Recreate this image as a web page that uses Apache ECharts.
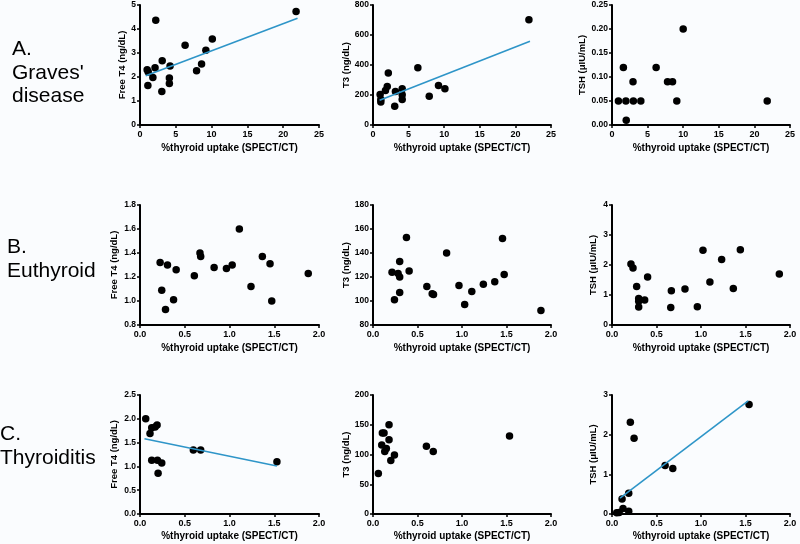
<!DOCTYPE html>
<html>
<head>
<meta charset="utf-8">
<script src="https://cdn.jsdelivr.net/npm/echarts@6/dist/echarts.min.js"></script>
<style>html,body{margin:0;padding:0;background:#fafcfe;}#c{width:800px;height:544px;}</style>
</head>
<body>
<div id="c"></div>
<script>
// ---- Data ----
// Row A: Graves' disease (x = %thyroid uptake)
const gravesFT4X = [21.8, 2.2, 6.3, 10.1, 9.2, 8.6, 7.9, 3.1, 2.1, 4.2, 1.0, 1.15, 1.8, 4.1, 4.1, 1.1, 3.05];
const gravesFT4Y = [4.73, 4.36, 3.32, 3.58, 3.11, 2.54, 2.26, 2.68, 2.39, 2.46, 2.30, 2.21, 1.98, 1.96, 1.73, 1.65, 1.40];
const gravesFT4Fit = [[0.8, 2.05], [22.0, 4.45]];
const gravesT3X = [21.9, 6.3, 2.15, 2.0, 1.75, 9.2, 10.1, 7.9, 3.15, 4.1, 4.1, 4.1, 1.0, 1.1, 1.1, 3.05];
const gravesT3Y = [702, 382, 346, 257, 230, 264, 241, 192, 223, 241, 201, 170, 203, 170, 154, 125];
const gravesT3Fit = [[0.93, 165], [22.05, 559]];
const gravesTSHX = [10.0, 1.6, 6.2, 2.95, 7.8, 8.5, 0.9, 1.95, 3.0, 4.05, 9.1, 21.8, 2.0];
const gravesTSHY = [0.20, 0.12, 0.12, 0.09, 0.09, 0.09, 0.05, 0.05, 0.05, 0.05, 0.05, 0.05, 0.01];
// Row B: Euthyroid
const euthFT4X = [0.225, 0.307, 0.404, 0.243, 0.375, 0.285, 0.670, 0.678, 0.607, 0.828, 0.966, 1.03, 1.367, 1.453, 1.24, 1.472, 1.88, 1.11];
const euthFT4Y = [1.32, 1.30, 1.26, 1.09, 1.01, 0.93, 1.40, 1.37, 1.21, 1.28, 1.27, 1.30, 1.37, 1.31, 1.12, 1.00, 1.23, 1.60];
const euthT3X = [0.376, 1.455, 0.827, 0.30, 0.214, 0.282, 0.30, 0.406, 0.605, 0.665, 0.68, 0.30, 0.241, 0.966, 1.03, 1.11, 1.24, 1.368, 1.474, 1.887];
const euthT3Y = [153, 152, 140, 133, 124, 123, 120, 125, 112, 106, 105.5, 107, 101, 113, 97, 108, 114, 116, 122, 92];
const euthTSHX = [0.213, 0.236, 0.277, 0.40, 0.30, 0.30, 0.30, 0.367, 0.667, 0.66, 0.82, 0.959, 1.022, 1.10, 1.232, 1.363, 1.442, 1.88];
const euthTSHY = [2.03, 1.90, 1.28, 1.60, 0.88, 0.79, 0.60, 0.83, 1.14, 0.58, 1.20, 0.61, 2.49, 1.43, 2.18, 1.22, 2.51, 1.70];
// Row C: Thyroiditis
const thyrFT4X = [0.064, 0.112, 0.131, 0.169, 0.191, 0.131, 0.195, 0.243, 0.202, 0.596, 0.678, 1.53];
const thyrFT4Y = [2.00, 1.69, 1.81, 1.83, 1.87, 1.13, 1.13, 1.07, 0.855, 1.345, 1.345, 1.10];
const thyrFT4Fit = [[0.05, 1.58], [1.53, 1.01]];
const thyrT3X = [0.18, 0.105, 0.124, 0.18, 0.098, 0.15, 0.132, 0.241, 0.2, 0.06, 0.60, 0.677, 1.534];
const thyrT3Y = [150, 136, 136, 125, 116, 110, 105, 99, 90, 68, 114, 105, 131];
const thyrTSHX = [0.206, 0.248, 0.597, 0.683, 0.188, 0.113, 0.124, 0.188, 0.053, 0.08, 1.54];
const thyrTSHY = [2.31, 1.91, 1.22, 1.15, 0.52, 0.38, 0.14, 0.07, 0.03, 0.04, 2.76];
const thyrTSHFit = [[0.09, 0.40], [1.53, 2.85]];

// Text
const xTitle = '%thyroid uptake (SPECT/CT)';
const yTitles = ['Free T4 (ng/dL)', 'T3 (ng/dL)', 'TSH (\u03bcIU/mL)'];
const rowLabels = [['A.', "Graves'", 'disease'], ['B.', 'Euthyroid'], ['C.', 'Thyroiditis']];

// ---- Layout ----
const colLeft = [140, 373, 612];
const colWidth = [179, 178, 178];
const rowTop = [5, 205, 395];
const rowHeight = [120, 120, 119];

const panels = [
  {r:0,c:0,x:gravesFT4X,y:gravesFT4Y,fit:gravesFT4Fit,xr:[0,25,5,0],yr:[0,5,1,0],gap:13},
  {r:0,c:1,x:gravesT3X,y:gravesT3Y,fit:gravesT3Fit,xr:[0,25,5,0],yr:[0,800,200,0],gap:21},
  {r:0,c:2,x:gravesTSHX,y:gravesTSHY,fit:null,xr:[0,25,5,0],yr:[0,0.25,0.05,2],gap:24},
  {r:1,c:0,x:euthFT4X,y:euthFT4Y,fit:null,xr:[0,2,0.5,1],yr:[0.8,1.8,0.2,1],gap:21},
  {r:1,c:1,x:euthT3X,y:euthT3Y,fit:null,xr:[0,2,0.5,1],yr:[80,180,20,0],gap:21},
  {r:1,c:2,x:euthTSHX,y:euthTSHY,fit:null,xr:[0,2,0.5,1],yr:[0,4,1,0],gap:14},
  {r:2,c:0,x:thyrFT4X,y:thyrFT4Y,fit:thyrFT4Fit,xr:[0,2,0.5,1],yr:[0,2.5,0.5,1],gap:21},
  {r:2,c:1,x:thyrT3X,y:thyrT3Y,fit:null,xr:[0,2,0.5,1],yr:[0,200,50,0],gap:21},
  {r:2,c:2,x:thyrTSHX,y:thyrTSHY,fit:thyrTSHFit,xr:[0,2,0.5,1],yr:[0,3,1,0],gap:14}
];
const xGaps = [18, 18, 17];

const grid = [], xAxis = [], yAxis = [], series = [];
const axisCommon = {
  axisLine: {lineStyle: {color: '#000', width: 2}},
  axisTick: {show: true, inside: false, length: 3, lineStyle: {color: '#000', width: 1.5}},
  splitLine: {show: false},
  nameTextStyle: {color: '#000', fontWeight: 'bold', fontSize: 9.5, fontFamily: 'Liberation Sans'}
};
panels.forEach((p, i) => {
  grid.push({left: colLeft[p.c], top: rowTop[p.r], width: colWidth[p.c], height: rowHeight[p.r], containLabel: false});
  xAxis.push(Object.assign({}, axisCommon, {
    gridIndex: i, type: 'value', min: p.xr[0], max: p.xr[1], interval: p.xr[2],
    name: xTitle, nameLocation: 'middle', nameGap: xGaps[p.r],
    nameTextStyle: {color: '#000', fontWeight: 'bold', fontSize: 10, fontFamily: 'Liberation Sans'},
    axisLabel: {color: '#000', fontWeight: 'bold', fontSize: 9, fontFamily: 'Liberation Sans', margin: 5,
      formatter: v => v.toFixed(p.xr[3])}
  }));
  yAxis.push(Object.assign({}, axisCommon, {
    gridIndex: i, type: 'value', min: p.yr[0], max: p.yr[1], interval: p.yr[2],
    name: yTitles[p.c], nameLocation: 'middle', nameGap: p.gap, nameRotate: 90,
    axisLabel: {color: '#000', fontWeight: 'bold', fontSize: 8.5, fontFamily: 'Liberation Sans', margin: 4,
      formatter: v => v.toFixed(p.yr[3])}
  }));
  if (p.fit) {
    series.push({type: 'line', xAxisIndex: i, yAxisIndex: i, data: p.fit, showSymbol: false,
      lineStyle: {color: '#2e95c8', width: 1.6}, z: 3, silent: true});
  }
  series.push({type: 'scatter', xAxisIndex: i, yAxisIndex: i,
    data: p.x.map((xv, k) => [xv, p.y[k]]), symbol: 'circle', symbolSize: 7.5,
    itemStyle: {color: '#000', opacity: 1}, z: 2});
});

const rowLabelPos = [
  {x: 12, ys: [51, 74.5, 98]},
  {x: 7, ys: [249, 272.5]},
  {x: 0, ys: [436, 460]}
];
const graphic = [];
rowLabels.forEach((lines, r) => {
  lines.forEach((t, k) => {
    graphic.push({type: 'text', left: rowLabelPos[r].x, top: rowLabelPos[r].ys[k] - 12,
      style: {text: t, fill: '#000', font: '21px "Liberation Sans", Arial, sans-serif'}});
  });
});

const chart = echarts.init(document.getElementById('c'), null, {renderer: 'canvas'});
chart.setOption({
  animation: false,
  backgroundColor: '#fafcfe',
  grid, xAxis, yAxis, series, graphic
});
</script>
</body>
</html>
